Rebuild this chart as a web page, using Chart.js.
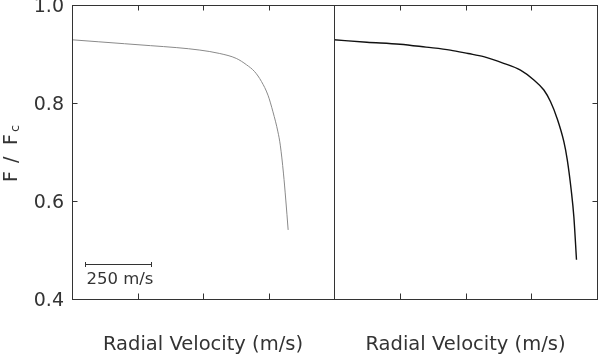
<!DOCTYPE html>
<html>
<head>
<meta charset="utf-8">
<script src="https://cdn.jsdelivr.net/npm/chart.js@4.4.1/dist/chart.umd.min.js"></script>
<style>
  html, body { margin: 0; padding: 0; background: #fff; }
  #wrap { position: relative; width: 600px; height: 357px; overflow: hidden; }
  canvas { position: absolute; top: 0; }
  #left { left: 0; }
  #right { left: 300px; }
</style>
</head>
<body>
<div id="wrap">
  <canvas id="left" width="340" height="357"></canvas>
  <canvas id="right" width="300" height="357"></canvas>
</div>
<script>
// velocities in m/s across each panel, flux normalised to continuum
leftVelocity = [0, 100, 200, 300, 400, 488, 564, 627, 666, 697, 723, 748, 767, 786, 795, 807, 816, 825];
leftFlux = [0.929, 0.925, 0.921, 0.917, 0.913, 0.908, 0.901, 0.891, 0.878, 0.864, 0.844, 0.816, 0.782, 0.741, 0.714, 0.657, 0.602, 0.541];

rightVelocity = [0, 125, 251, 350, 442, 510, 569, 645, 709, 760, 798, 823, 848, 874, 887, 902, 912, 922];
rightFlux = [0.929, 0.924, 0.920, 0.914, 0.908, 0.901, 0.8945, 0.881, 0.867, 0.847, 0.8265, 0.803, 0.769, 0.721, 0.684, 0.622, 0.568, 0.480];

// axis ranges and tick steps
velocityRange = [0, 1000];
velocityStep = 250;
fluxRange = [0.4, 1.0];
fluxStep = 0.2;

// scale bar in the left panel: from/to velocity, at flux level
scaleBar = [50, 300];
scaleBarFlux = 0.4714;
scaleBarLabel = '250 m/s';

xTitle = 'Radial Velocity (m/s)';

const FONT = "'DejaVu Sans', sans-serif";
const INK = '#333';
Chart.defaults.font.family = FONT;
Chart.defaults.color = INK;

function toPoints(xs, ys) {
  let pts = [];
  for (let i = 0; i < xs.length; i++) {
    pts.push({x: xs[i], y: ys[i]});
  }
  return pts;
}

// box around the plot and short ticks pointing inwards
const frameTicks = {
  id: 'frameTicks',
  afterDatasetsDraw(chart, args, opts) {
    const ctx = chart.ctx;
    const a = chart.chartArea;
    const x = chart.scales.x, y = chart.scales.y;
    const L = Math.round(a.left) + 0.5, R = Math.round(a.right) + 0.5;
    const T = Math.round(a.top) + 0.5, B = Math.round(a.bottom) + 0.5;
    ctx.save();
    ctx.strokeStyle = INK;
    ctx.lineWidth = 1;
    ctx.strokeRect(L, T, R - L, B - T);
    ctx.beginPath();
    x.ticks.forEach(t => {
      if (t.value <= x.min || t.value >= x.max) return;
      const px = Math.round(x.getPixelForValue(t.value)) + 0.5;
      ctx.moveTo(px, T); ctx.lineTo(px, T + 5);
      ctx.moveTo(px, B); ctx.lineTo(px, B - 6);
    });
    y.ticks.forEach(t => {
      if (t.value <= y.min + 1e-6 || t.value >= y.max - 1e-6) return;
      const py = Math.round(y.getPixelForValue(t.value)) + 0.5;
      if (opts.side == 'left') { ctx.moveTo(L, py); ctx.lineTo(L + 5, py); }
      else { ctx.moveTo(R, py); ctx.lineTo(R - 5, py); }
    });
    ctx.stroke();
    ctx.restore();
  }
};

// F / Fc title and the velocity scale bar, left panel only
const leftExtras = {
  id: 'leftExtras',
  afterDraw(chart) {
    const ctx = chart.ctx;
    const x = chart.scales.x, y = chart.scales.y;
    ctx.save();
    ctx.fillStyle = INK;
    ctx.strokeStyle = INK;
    ctx.lineWidth = 1;

    // y title, rotated, spaced out like the original, with subscript c
    ctx.translate(12, (chart.chartArea.top + chart.chartArea.bottom) / 2);
    ctx.rotate(-Math.PI / 2);
    ctx.textBaseline = 'middle';
    ctx.textAlign = 'left';
    ctx.font = '19px ' + FONT;
    ctx.fillText('F', -30, 0);
    ctx.fillText('/', -11, 0);
    ctx.fillText('F', 7, 0);
    ctx.font = '13px ' + FONT;
    ctx.fillText('c', 20, 4);
    ctx.setTransform(1, 0, 0, 1, 0, 0);

    // scale bar
    const x0 = Math.round(x.getPixelForValue(scaleBar[0])) + 0.5;
    const x1 = Math.round(x.getPixelForValue(scaleBar[1])) + 0.5;
    const py = Math.round(y.getPixelForValue(scaleBarFlux)) + 0.5;
    ctx.beginPath();
    ctx.moveTo(x0, py); ctx.lineTo(x1, py);
    ctx.moveTo(x0, py - 2.5); ctx.lineTo(x0, py + 2.5);
    ctx.moveTo(x1, py - 2.5); ctx.lineTo(x1, py + 2.5);
    ctx.stroke();
    ctx.font = '16.5px ' + FONT;
    ctx.textBaseline = 'alphabetic';
    ctx.fillText(scaleBarLabel, x0 + 1, py + 19.5);
    ctx.restore();
  }
};

function xScale() {
  return {
    type: 'linear',
    min: velocityRange[0],
    max: velocityRange[1],
    ticks: { display: false, stepSize: velocityStep },
    grid: { display: false, drawTicks: false },
    border: { display: false },
    title: { display: true, text: xTitle, font: { size: 19.5 }, color: INK, padding: { top: 0, bottom: 0 } },
    afterFit: function(scale) { scale.height = 58; scale.paddingLeft = 0; scale.paddingRight = 0; }
  };
}

function yScale(showLabels, width) {
  return {
    type: 'linear',
    min: fluxRange[0],
    max: fluxRange[1],
    ticks: {
      display: showLabels,
      stepSize: fluxStep,
      padding: 8,
      labelOffset: 2,
      font: { size: 19 },
      color: INK,
      callback: v => v.toFixed(1)
    },
    grid: { display: false, drawTicks: false },
    border: { display: false },
    afterFit: function(scale) { scale.width = width; scale.paddingTop = 0; scale.paddingBottom = 0; }
  };
}

const leftChart = new Chart(document.getElementById('left'), {
  type: 'line',
  data: {
    datasets: [{
      data: toPoints(leftVelocity, leftFlux),
      borderColor: '#8a8a8a',
      borderWidth: 1,
      pointRadius: 0,
      fill: false,
      cubicInterpolationMode: 'monotone'
    }]
  },
  options: {
    responsive: false,
    animation: false,
    layout: { padding: { left: 0, right: 6, top: 5, bottom: 0 } },
    plugins: { legend: { display: false }, tooltip: { enabled: false }, frameTicks: { side: 'left' } },
    scales: { x: xScale(), y: yScale(true, 72) }
  },
  plugins: [frameTicks, leftExtras]
});

const rightChart = new Chart(document.getElementById('right'), {
  type: 'line',
  data: {
    datasets: [{
      data: toPoints(rightVelocity, rightFlux),
      borderColor: '#111',
      borderWidth: 1.4,
      pointRadius: 0,
      fill: false,
      cubicInterpolationMode: 'monotone'
    }]
  },
  options: {
    responsive: false,
    animation: false,
    layout: { padding: { left: 34, right: 3, top: 5, bottom: 0 } },
    plugins: { legend: { display: false }, tooltip: { enabled: false }, frameTicks: { side: 'right' } },
    scales: { x: xScale(), y: yScale(false, 0) }
  },
  plugins: [frameTicks]
});
</script>
</body>
</html>
